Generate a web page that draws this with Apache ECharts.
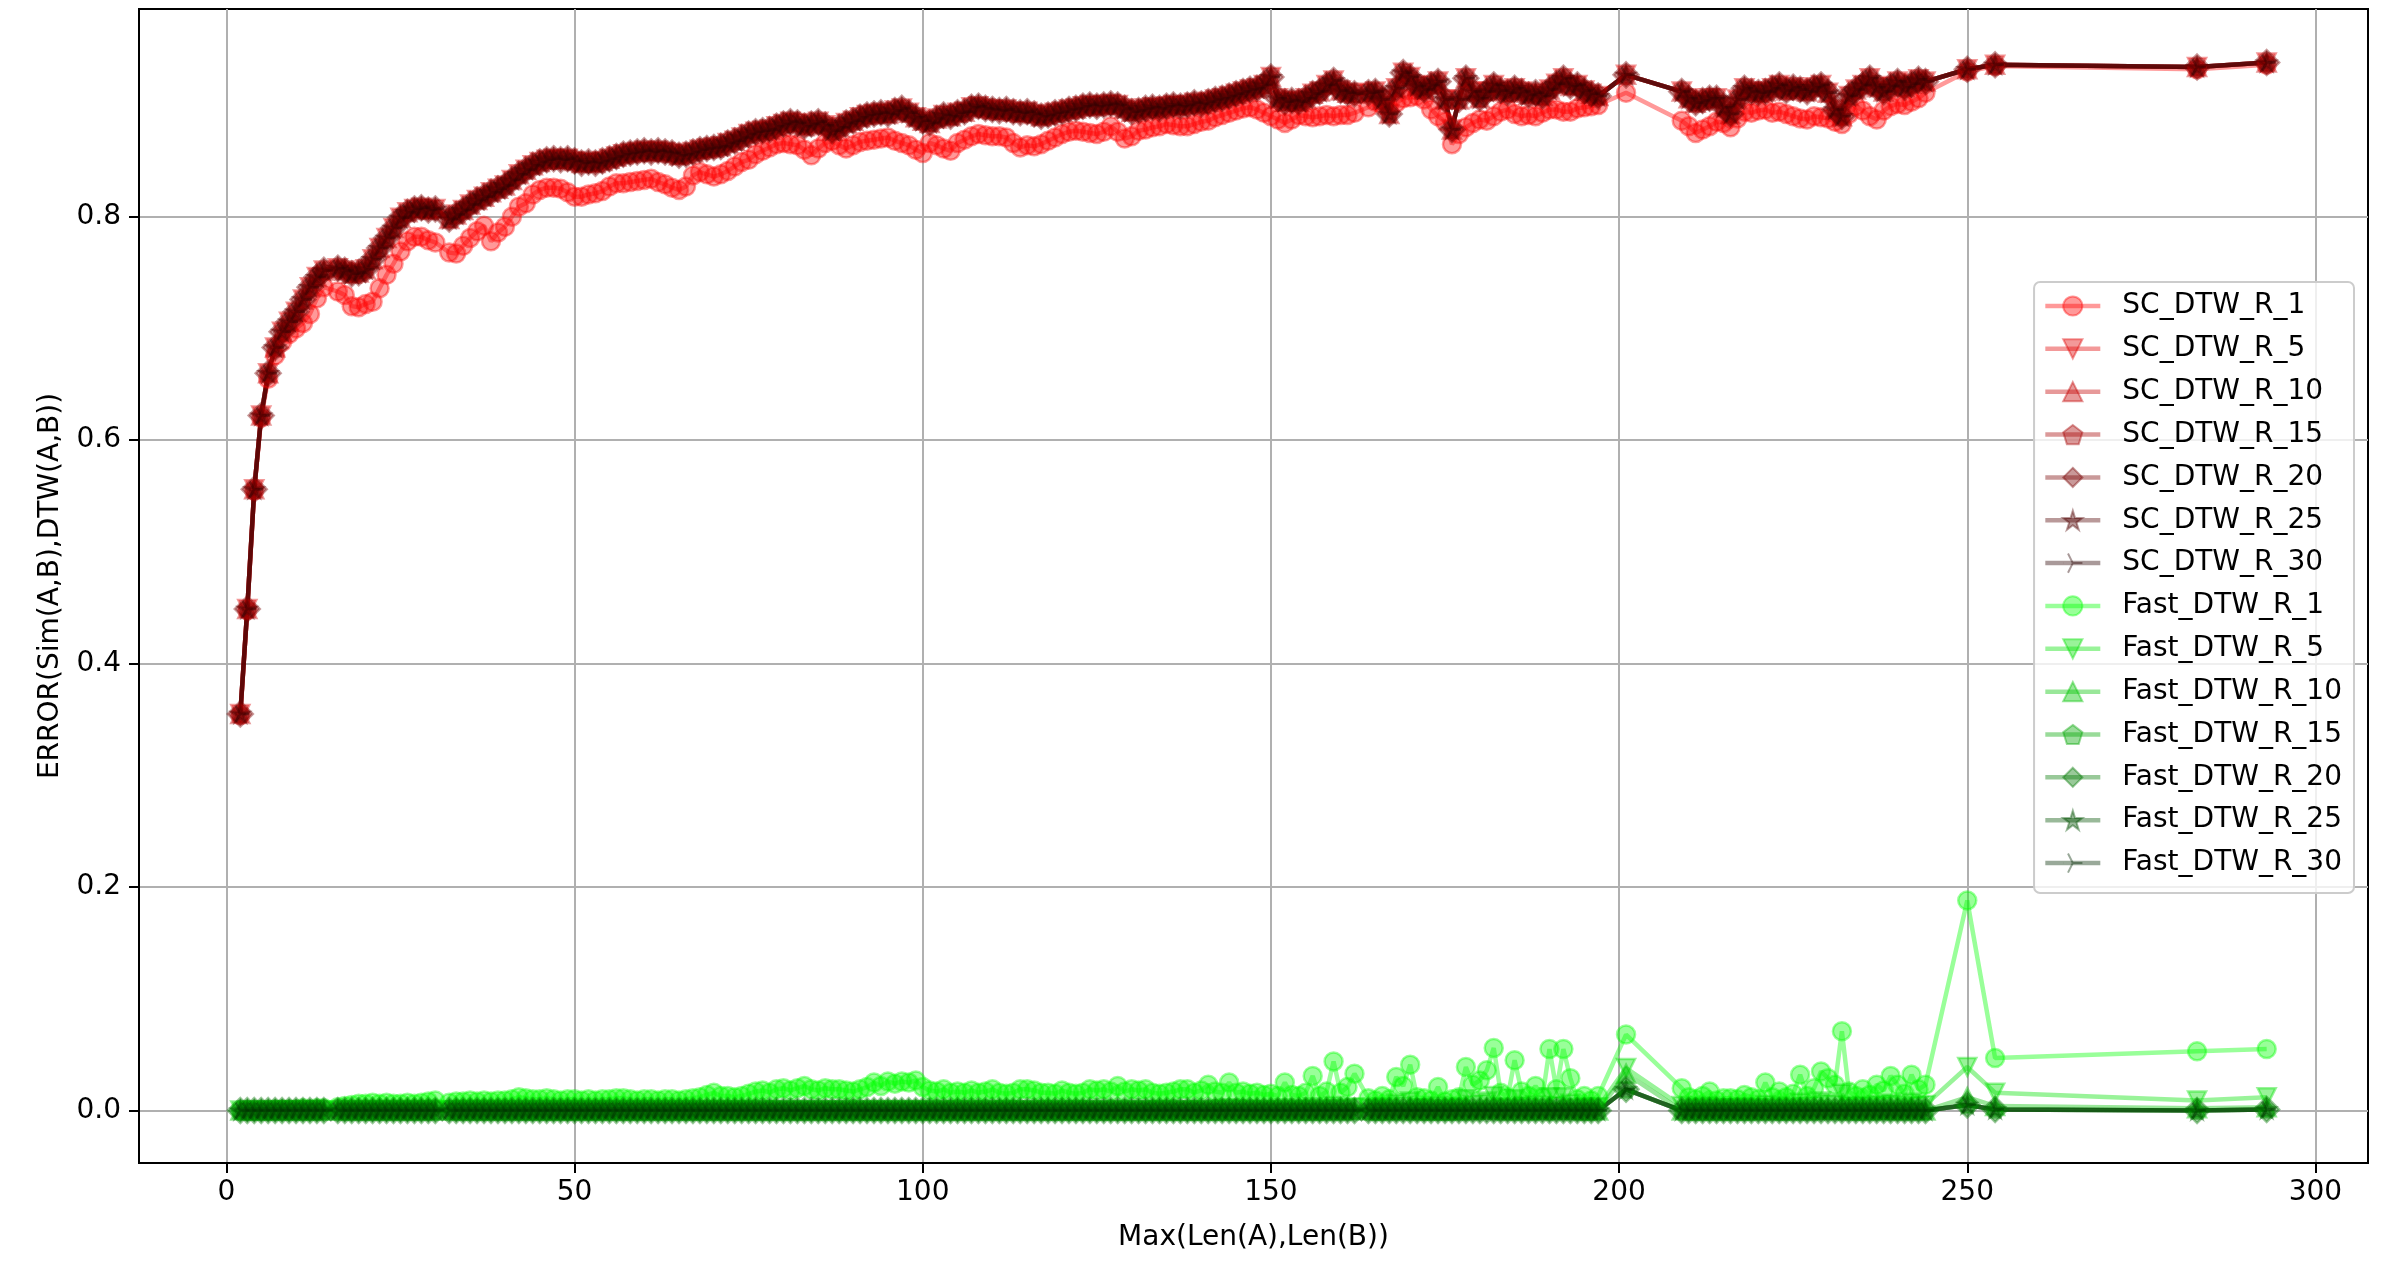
<!DOCTYPE html>
<html>
<head>
<meta charset="utf-8">
<script src="https://cdn.jsdelivr.net/npm/echarts@6/dist/echarts.min.js"></script>
<style>
  html, body { margin: 0; padding: 0; background: #fff; }
  #chart { width: 2400px; height: 1265px; }
</style>
</head>
<body>
<div id="chart"></div>
<script>
// x values: Max(Len(A),Len(B))
const lengths = [
  2, 3, 4, 5, 6, 7, 8, 9, 10, 11, 12, 13, 14,
  16, 17, 18, 19, 20, 21, 22, 23, 24, 25, 26, 27, 28, 29, 30,
  32, 33, 34, 35, 36, 37, 38, 39, 40, 41,
  42, 43, 44, 45, 46, 47, 48, 49, 50, 51,
  52, 53, 54, 55, 56, 57, 58, 59, 60, 61,
  62, 63, 64, 65, 66, 67, 68, 69, 70, 71,
  72, 73, 74, 75, 76, 77, 78, 79, 80, 81,
  82, 83, 84, 85, 86, 87, 88, 89, 90, 91,
  92, 93, 94, 95, 96, 97, 98, 99, 100, 101,
  102, 103, 104, 105, 106, 107, 108, 109, 110, 111,
  112, 113, 114, 115, 116, 117, 118, 119, 120, 121,
  122, 123, 124, 125, 126, 127, 128, 129, 130, 131,
  132, 133, 134, 135, 136, 137, 138, 139, 140, 141,
  142, 143, 144, 145, 146, 147, 148, 149, 150, 151,
  152, 153, 154, 155, 156, 157, 158, 159, 160, 161,
  162,
  164, 165, 166, 167, 168, 169, 170, 171, 172, 173,
  174, 175, 176, 177, 178, 179, 180, 181, 182, 183,
  184, 185, 186, 187, 188, 189, 190, 191, 192, 193,
  194, 195, 196, 197,
  201,
  209, 210, 211, 212, 213, 214, 215, 216, 217, 218,
  219, 220, 221, 222, 223, 224, 225, 226, 227, 228,
  229, 230, 231, 232, 233, 234, 235, 236, 237, 238,
  239, 240, 241, 242, 243, 244,
  250, 254, 283, 293
]

// SC_DTW_R_1 (lower red curve)
const scR1 = [
  0.354, 0.448, 0.555, 0.620, 0.655, 0.676, 0.688, 0.695, 0.700, 0.705, 0.713, 0.727, 0.737,
  0.733, 0.730, 0.720, 0.719, 0.722, 0.724, 0.736, 0.748, 0.758, 0.769, 0.778, 0.782, 0.782, 0.779, 0.777,
  0.768, 0.767, 0.774, 0.781, 0.787, 0.792, 0.778, 0.786, 0.791, 0.800,
  0.809, 0.812, 0.820, 0.824, 0.826, 0.826, 0.825, 0.822, 0.818, 0.818,
  0.820, 0.821, 0.823, 0.827, 0.830, 0.830, 0.831, 0.832, 0.833, 0.834,
  0.831, 0.829, 0.826, 0.824, 0.827, 0.837, 0.840, 0.838, 0.836, 0.838,
  0.841, 0.845, 0.849, 0.851, 0.856, 0.859, 0.862, 0.865, 0.866, 0.865,
  0.864, 0.860, 0.855, 0.861, 0.866, 0.868, 0.864, 0.861, 0.864, 0.867,
  0.868, 0.869, 0.870, 0.871, 0.868, 0.866, 0.864, 0.860, 0.857, 0.866,
  0.864, 0.861, 0.859, 0.866, 0.869, 0.872, 0.874, 0.873, 0.872, 0.872,
  0.871, 0.866, 0.862, 0.864, 0.863, 0.865, 0.868, 0.871, 0.874, 0.876,
  0.877, 0.876, 0.875, 0.874, 0.876, 0.881, 0.876, 0.870, 0.872, 0.877,
  0.878, 0.880, 0.881, 0.883, 0.882, 0.881, 0.881, 0.883, 0.885, 0.886,
  0.889, 0.891, 0.893, 0.895, 0.897, 0.898, 0.896, 0.893, 0.890, 0.887,
  0.884, 0.887, 0.891, 0.890, 0.889, 0.890, 0.891, 0.890, 0.891, 0.891,
  0.893,
  0.898, 0.903, 0.900, 0.895, 0.902, 0.906, 0.907, 0.908, 0.905, 0.896,
  0.890, 0.885, 0.865, 0.874, 0.880, 0.884, 0.887, 0.886, 0.890, 0.894,
  0.896, 0.892, 0.890, 0.891, 0.890, 0.893, 0.896, 0.896, 0.894, 0.894,
  0.897, 0.898, 0.899, 0.900,
  0.911,
  0.886, 0.881, 0.875, 0.878, 0.881, 0.885, 0.884, 0.880, 0.888, 0.894,
  0.893, 0.895, 0.896, 0.893, 0.894, 0.892, 0.890, 0.888, 0.887, 0.890,
  0.889, 0.888, 0.885, 0.883, 0.892, 0.899, 0.895, 0.890, 0.887, 0.895,
  0.899, 0.901, 0.900, 0.903, 0.906, 0.911,
  0.930, 0.935, 0.932, 0.936
]

// SC_DTW_R_5 ... R_30 lie on top of each other (dark red band)
const scUpper = [
  0.355, 0.449, 0.556, 0.622, 0.660, 0.683, 0.697, 0.706, 0.715, 0.726, 0.737, 0.746, 0.752,
  0.754, 0.752, 0.749, 0.750, 0.753, 0.762, 0.772, 0.781, 0.790, 0.799, 0.804, 0.807, 0.808, 0.806, 0.807,
  0.798, 0.802, 0.806, 0.811, 0.815, 0.818, 0.822, 0.825, 0.828, 0.833,
  0.838, 0.842, 0.846, 0.849, 0.851, 0.852, 0.851, 0.852, 0.850, 0.848,
  0.849, 0.848, 0.850, 0.852, 0.854, 0.856, 0.857, 0.858, 0.859, 0.858,
  0.859, 0.858, 0.857, 0.855, 0.856, 0.858, 0.860, 0.861, 0.862, 0.863,
  0.866, 0.868, 0.871, 0.874, 0.876, 0.877, 0.878, 0.881, 0.883, 0.885,
  0.884, 0.881, 0.883, 0.885, 0.882, 0.877, 0.880, 0.884, 0.886, 0.889,
  0.891, 0.892, 0.893, 0.892, 0.895, 0.897, 0.893, 0.889, 0.886, 0.884,
  0.888, 0.891, 0.890, 0.893, 0.894, 0.898, 0.899, 0.897, 0.896, 0.895,
  0.896, 0.894, 0.893, 0.894, 0.892, 0.890, 0.891, 0.893, 0.894, 0.896,
  0.897, 0.899, 0.900, 0.899, 0.900, 0.901, 0.900, 0.897, 0.894, 0.895,
  0.897, 0.898, 0.897, 0.899, 0.900, 0.899, 0.900, 0.902, 0.901, 0.903,
  0.905, 0.906, 0.908, 0.910, 0.912, 0.914, 0.915, 0.918, 0.925, 0.906,
  0.903, 0.904, 0.903, 0.906, 0.910, 0.912, 0.918, 0.922, 0.913, 0.911,
  0.910,
  0.911, 0.912, 0.905, 0.892, 0.915, 0.929, 0.925, 0.917, 0.914, 0.918,
  0.921, 0.905, 0.878, 0.905, 0.924, 0.912, 0.906, 0.912, 0.918, 0.913,
  0.911, 0.915, 0.912, 0.909, 0.911, 0.908, 0.914, 0.919, 0.924, 0.917,
  0.918, 0.913, 0.910, 0.908,
  0.927,
  0.912, 0.906, 0.902, 0.904, 0.906, 0.906, 0.898, 0.892, 0.905, 0.915,
  0.912, 0.911, 0.912, 0.915, 0.918, 0.913, 0.916, 0.914, 0.912, 0.916,
  0.918, 0.911, 0.896, 0.890, 0.908, 0.914, 0.918, 0.924, 0.916, 0.912,
  0.917, 0.921, 0.916, 0.919, 0.923, 0.921,
  0.932, 0.936, 0.934, 0.938
]

// Fast_DTW_R_1 (noisy light green)
const fastR1 = [
  0.000, 0.000, 0.000, 0.000, 0.000, 0.001, 0.001, 0.001, 0.001, 0.002, 0.001, 0.002, 0.002,
  0.003, 0.004, 0.005, 0.006, 0.006, 0.007, 0.006, 0.007, 0.006, 0.006, 0.007, 0.006, 0.007, 0.008, 0.009,
  0.007, 0.008, 0.008, 0.009, 0.008, 0.009, 0.008, 0.009, 0.009, 0.010,
  0.012, 0.011, 0.010, 0.010, 0.011, 0.010, 0.009, 0.010, 0.010, 0.009,
  0.010, 0.009, 0.010, 0.010, 0.011, 0.011, 0.010, 0.009, 0.010, 0.010,
  0.009, 0.010, 0.010, 0.009, 0.010, 0.011, 0.012, 0.014, 0.016, 0.013,
  0.013, 0.012, 0.013, 0.015, 0.017, 0.018, 0.016, 0.019, 0.020, 0.018,
  0.020, 0.022, 0.019, 0.018, 0.020, 0.019, 0.019, 0.018, 0.017, 0.019,
  0.021, 0.025, 0.022, 0.026, 0.024, 0.026, 0.025, 0.027, 0.021, 0.018,
  0.017, 0.019, 0.016, 0.017, 0.016, 0.018, 0.016, 0.017, 0.019, 0.016,
  0.015, 0.016, 0.019, 0.019, 0.018, 0.016, 0.016, 0.015, 0.018, 0.016,
  0.015, 0.016, 0.019, 0.018, 0.019, 0.017, 0.022, 0.017, 0.019, 0.018,
  0.019, 0.016, 0.015, 0.016, 0.017, 0.019, 0.019, 0.016, 0.018, 0.023,
  0.017, 0.016, 0.025, 0.016, 0.017, 0.015, 0.016, 0.014, 0.015, 0.013,
  0.025, 0.014, 0.013, 0.016, 0.031, 0.013, 0.017, 0.044, 0.016, 0.021,
  0.033,
  0.011, 0.009, 0.013, 0.010, 0.030, 0.022, 0.041, 0.012, 0.011, 0.009,
  0.021, 0.008, 0.010, 0.012, 0.039, 0.023, 0.027, 0.036, 0.056, 0.016,
  0.012, 0.045, 0.017, 0.013, 0.022, 0.012, 0.055, 0.019, 0.055, 0.029,
  0.010, 0.013, 0.009, 0.013,
  0.068,
  0.020, 0.012, 0.010, 0.013, 0.017, 0.009, 0.011, 0.011, 0.010, 0.014,
  0.012, 0.010, 0.025, 0.012, 0.017, 0.012, 0.015, 0.032, 0.013, 0.020,
  0.035, 0.029, 0.023, 0.071, 0.017, 0.013, 0.019, 0.014, 0.023, 0.018,
  0.031, 0.023, 0.015, 0.032, 0.019, 0.023,
  0.188, 0.047, 0.053, 0.055
]

// Fast_DTW_R_5
const fastR5 = [
  0, 0, 0, 0, 0, 0, 0, 0, 0, 0, 0, 0, 0,
  0, 0, 0, 0, 0, 0, 0, 0, 0, 0, 0, 0, 0, 0, 0,
  0, 0, 0, 0, 0, 0, 0, 0, 0, 0,
  0, 0, 0, 0, 0, 0, 0, 0, 0, 0,
  0, 0, 0, 0, 0, 0, 0, 0, 0, 0,
  0, 0, 0, 0, 0, 0, 0, 0, 0, 0,
  0, 0, 0, 0, 0, 0, 0, 0, 0, 0,
  0, 0, 0, 0, 0, 0, 0, 0, 0, 0,
  0, 0, 0, 0, 0, 0, 0, 0, 0, 0,
  0, 0, 0, 0, 0, 0, 0, 0, 0, 0,
  0, 0, 0, 0, 0, 0, 0, 0, 0, 0,
  0, 0, 0, 0, 0, 0, 0, 0, 0, 0,
  0, 0, 0, 0, 0, 0, 0, 0, 0, 0,
  0.001, 0, 0.002, 0, 0.001, 0, 0, 0, 0, 0,
  0.002, 0, 0, 0.001, 0.003, 0, 0.001, 0.004, 0.001, 0.002,
  0.003,
  0.002, 0.001, 0.003, 0.002, 0.006, 0.004, 0.008, 0.002, 0.002, 0.001,
  0.004, 0.001, 0.002, 0.003, 0.010, 0.005, 0.006, 0.008, 0.013, 0.003,
  0.002, 0.010, 0.004, 0.003, 0.005, 0.002, 0.012, 0.004, 0.012, 0.006,
  0.002, 0.003, 0.002, 0.003,
  0.038,
  0.004, 0.002, 0.002, 0.003, 0.004, 0.002, 0.002, 0.002, 0.002, 0.003,
  0.002, 0.002, 0.005, 0.002, 0.004, 0.002, 0.003, 0.007, 0.003, 0.004,
  0.008, 0.006, 0.005, 0.015, 0.004, 0.003, 0.004, 0.003, 0.005, 0.004,
  0.006, 0.005, 0.003, 0.007, 0.004, 0.005,
  0.039, 0.016, 0.009, 0.012
]

// Fast_DTW_R_10
const fastR10 = [
  0, 0, 0, 0, 0, 0, 0, 0, 0, 0, 0, 0, 0,
  0, 0, 0, 0, 0, 0, 0, 0, 0, 0, 0, 0, 0, 0, 0,
  0, 0, 0, 0, 0, 0, 0, 0, 0, 0,
  0, 0, 0, 0, 0, 0, 0, 0, 0, 0,
  0, 0, 0, 0, 0, 0, 0, 0, 0, 0,
  0, 0, 0, 0, 0, 0, 0, 0, 0, 0,
  0, 0, 0, 0, 0, 0, 0, 0, 0, 0,
  0, 0, 0, 0, 0, 0, 0, 0, 0, 0,
  0, 0, 0, 0, 0, 0, 0, 0, 0, 0,
  0, 0, 0, 0, 0, 0, 0, 0, 0, 0,
  0, 0, 0, 0, 0, 0, 0, 0, 0, 0,
  0, 0, 0, 0, 0, 0, 0, 0, 0, 0,
  0, 0, 0, 0, 0, 0, 0, 0, 0, 0,
  0, 0, 0, 0, 0, 0, 0, 0, 0, 0,
  0, 0, 0, 0, 0, 0, 0, 0.001, 0, 0,
  0.001,
  0, 0, 0, 0, 0.001, 0, 0.002, 0, 0, 0,
  0, 0, 0, 0, 0.003, 0, 0.001, 0.002, 0.004, 0,
  0, 0.003, 0, 0, 0.001, 0, 0.004, 0, 0.004, 0.001,
  0, 0, 0, 0,
  0.033,
  0, 0, 0, 0, 0, 0, 0, 0, 0, 0,
  0, 0, 0.001, 0, 0, 0, 0, 0.002, 0, 0,
  0.002, 0.001, 0, 0.005, 0, 0, 0, 0, 0.001, 0,
  0.001, 0, 0, 0.002, 0, 0,
  0.012, 0.004, 0.002, 0.003
]

// Fast_DTW_R_15 ... R_30 (stay on zero)
const fastLow = [
  0, 0, 0, 0, 0, 0, 0, 0, 0, 0, 0, 0, 0,
  0, 0, 0, 0, 0, 0, 0, 0, 0, 0, 0, 0, 0, 0, 0,
  0, 0, 0, 0, 0, 0, 0, 0, 0, 0,
  0, 0, 0, 0, 0, 0, 0, 0, 0, 0,
  0, 0, 0, 0, 0, 0, 0, 0, 0, 0,
  0, 0, 0, 0, 0, 0, 0, 0, 0, 0,
  0, 0, 0, 0, 0, 0, 0, 0, 0, 0,
  0, 0, 0, 0, 0, 0, 0, 0, 0, 0,
  0, 0, 0, 0, 0, 0, 0, 0, 0, 0,
  0, 0, 0, 0, 0, 0, 0, 0, 0, 0,
  0, 0, 0, 0, 0, 0, 0, 0, 0, 0,
  0, 0, 0, 0, 0, 0, 0, 0, 0, 0,
  0, 0, 0, 0, 0, 0, 0, 0, 0, 0,
  0, 0, 0, 0, 0, 0, 0, 0, 0, 0,
  0, 0, 0, 0, 0, 0, 0, 0, 0, 0,
  0,
  0, 0, 0, 0, 0, 0, 0, 0, 0, 0,
  0, 0, 0, 0, 0, 0, 0, 0, 0, 0,
  0, 0, 0, 0, 0, 0, 0, 0, 0, 0,
  0, 0, 0, 0,
  0.019,
  0, 0, 0, 0, 0, 0, 0, 0, 0, 0,
  0, 0, 0, 0, 0, 0, 0, 0, 0, 0,
  0, 0, 0, 0, 0, 0, 0, 0, 0, 0,
  0, 0, 0, 0, 0, 0,
  0.005, 0.001, 0, 0.001
]

const seriesNames = [
  'SC_DTW_R_1', 'SC_DTW_R_5', 'SC_DTW_R_10', 'SC_DTW_R_15', 'SC_DTW_R_20', 'SC_DTW_R_25', 'SC_DTW_R_30',
  'Fast_DTW_R_1', 'Fast_DTW_R_5', 'Fast_DTW_R_10', 'Fast_DTW_R_15', 'Fast_DTW_R_20', 'Fast_DTW_R_25', 'Fast_DTW_R_30'
]
const seriesValues = [
  scR1, scUpper, scUpper, scUpper, scUpper, scUpper, scUpper,
  fastR1, fastR5, fastR10, fastLow, fastLow, fastLow, fastLow
]
const xTicks = [0, 50, 100, 150, 200, 250, 300]
const yTicks = [0, 0.2, 0.4, 0.6, 0.8]

// marker shapes like matplotlib o v ^ p D * 4
const markers = [
  { symbol: 'circle', size: 18 },
  { symbol: 'path://M0,0 L100,0 L50,100 Z', size: 18 },
  { symbol: 'path://M50,0 L100,100 L0,100 Z', size: 18 },
  { symbol: 'path://M50,0 L97.55,34.55 L79.39,90.45 L20.61,90.45 L2.45,34.55 Z', size: 17 },
  { symbol: 'diamond', size: 25 },
  { symbol: 'path://M50,0 L61.23,34.55 L97.55,34.55 L68.17,55.9 L79.39,90.45 L50,69.1 L20.61,90.45 L31.83,55.9 L2.45,34.55 L38.77,34.55 Z', size: 17 },
  { symbol: 'path://M50,50 L100,50 M50,50 L25,6.7 M50,50 L25,93.3 M0,50 L0.5,50', size: 18 }
]
const shades = [255, 225, 195, 165, 120, 80, 40]

const chart = echarts.init(document.getElementById('chart'))

const series = seriesNames.map((name, k) => {
  const isSC = k < 7
  const m = markers[k % 7]
  const v = shades[k % 7]
  const rgb = isSC ? `${v},0,0` : `0,${v},0`
  const col = `rgba(${rgb},0.4)`
  return {
    name,
    type: 'line',
    data: lengths.map((x, i) => [x, seriesValues[k][i]]),
    symbol: m.symbol,
    symbolSize: m.size,
    symbolKeepAspect: true,
    showSymbol: true,
    showAllSymbol: true,
    lineStyle: { color: col, width: 4.5 },
    itemStyle: { color: col, borderColor: col, borderWidth: 2.5 },
    emphasis: { disabled: true },
    animation: false
  }
})

const font = 'DejaVu Sans'
const axisLine = { show: true, onZero: false, lineStyle: { color: '#000', width: 2 } }

chart.setOption({
  animation: false,
  textStyle: { fontFamily: font },
  grid: {
    left: 139, right: 32, top: 9, bottom: 102,
    show: true, borderColor: '#000', borderWidth: 2, backgroundColor: 'transparent'
  },
  legend: {
    orient: 'vertical',
    right: 46,
    top: 282,
    padding: [10, 12, 16, 9],
    itemWidth: 55,
    itemHeight: 24,
    itemGap: 14.85,
    backgroundColor: 'rgba(255,255,255,0.8)',
    borderColor: '#cccccc',
    borderWidth: 2,
    borderRadius: 6,
    selectedMode: false,
    lineStyle: { width: 4.5 },
    textStyle: { fontFamily: font, fontSize: 28, color: '#000', padding: [0, 0, 0, 17] },
    data: seriesNames
  },
  xAxis: {
    type: 'value',
    min: -12.55,
    max: 307.55,
    name: 'Max(Len(A),Len(B))',
    nameLocation: 'middle',
    nameGap: 61,
    nameTextStyle: { fontFamily: font, fontSize: 28, color: '#000' },
    axisLine,
    axisTick: { show: true, inside: false, length: 10, lineStyle: { color: '#000', width: 2 }, customValues: xTicks },
    axisLabel: { fontFamily: font, fontSize: 28, color: '#000', margin: 16, customValues: xTicks, formatter: v => String(v) },
    splitLine: { show: true, lineStyle: { color: '#b0b0b0', width: 2 } }
  },
  yAxis: {
    type: 'value',
    min: -0.04695,
    max: 0.98595,
    name: 'ERROR(Sim(A,B),DTW(A,B))',
    nameLocation: 'middle',
    nameGap: 74,
    nameTextStyle: { fontFamily: font, fontSize: 28, color: '#000' },
    axisLine,
    axisTick: { show: true, inside: false, length: 10, lineStyle: { color: '#000', width: 2 }, customValues: yTicks },
    axisLabel: { fontFamily: font, fontSize: 28, color: '#000', margin: 18, customValues: yTicks, formatter: v => v.toFixed(1) },
    splitLine: { show: true, lineStyle: { color: '#b0b0b0', width: 2 } }
  },
  series
})
</script>
</body>
</html>
